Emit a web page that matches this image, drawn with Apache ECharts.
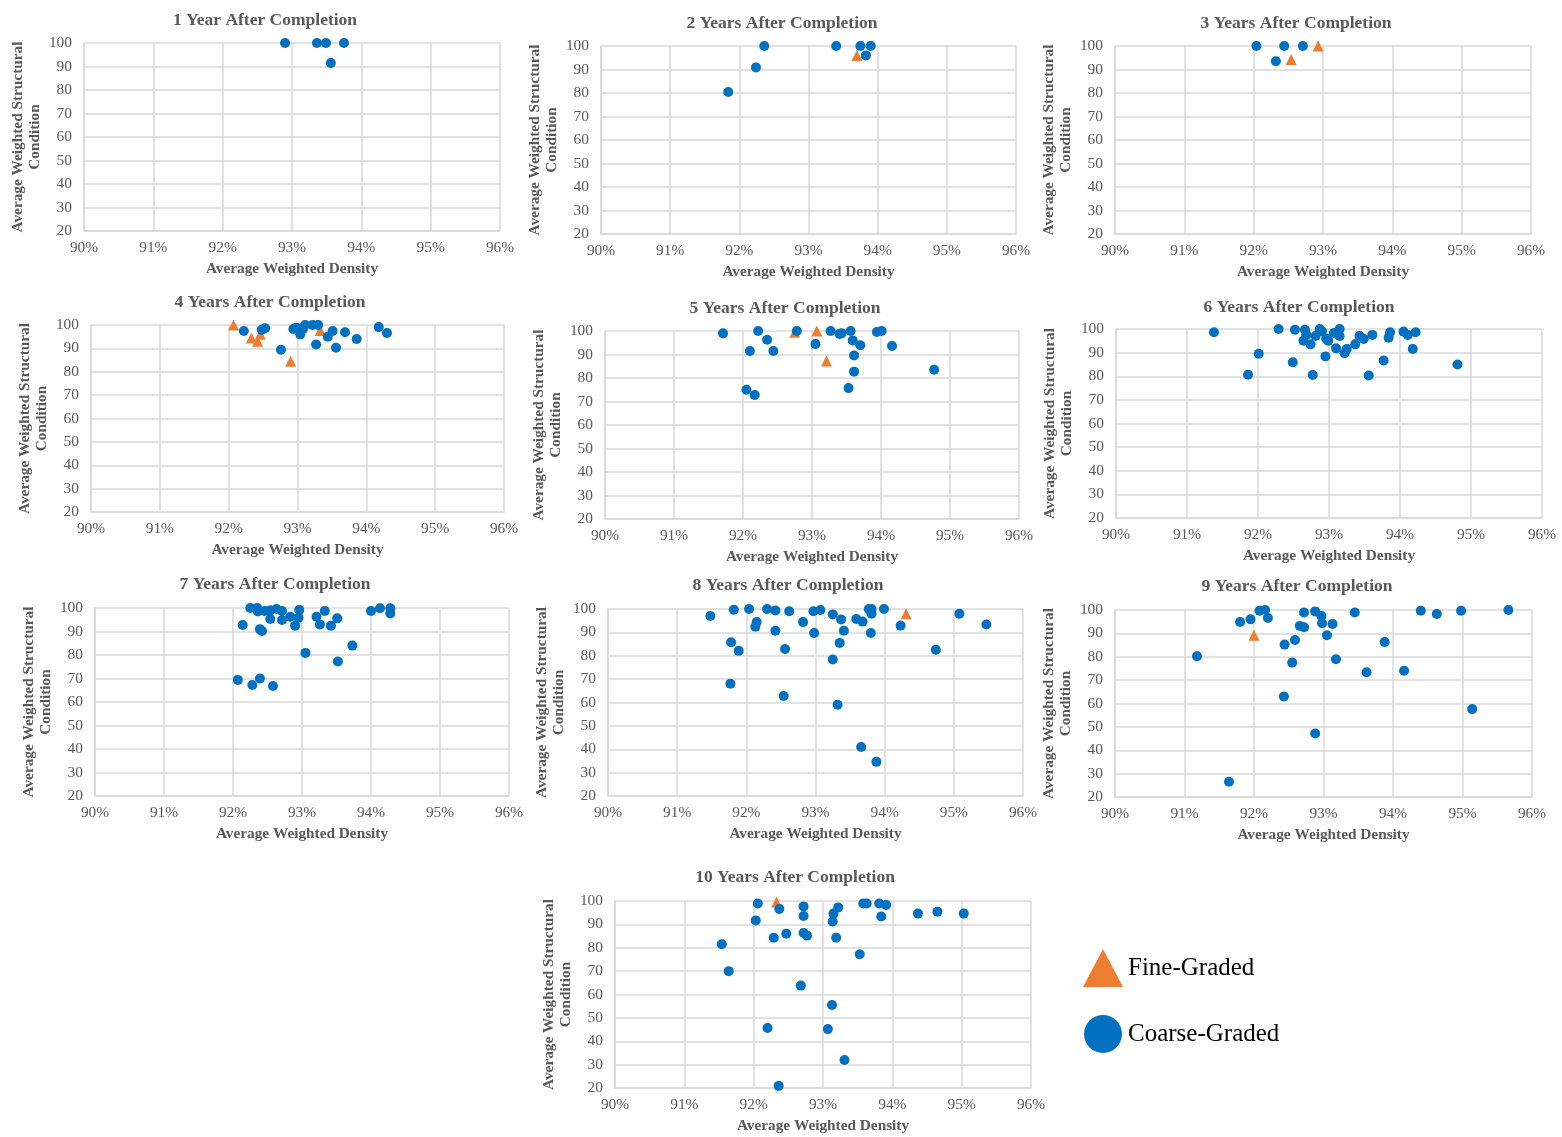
<!DOCTYPE html>
<html><head><meta charset="utf-8">
<script src="https://cdn.jsdelivr.net/npm/echarts@6/dist/echarts.min.js"></script>
<style>html,body{margin:0;padding:0;background:#fff}#c{width:1562px;height:1137px}</style>
</head><body><div id="c"></div>
<script>
// ---------- data ----------
const titles = ['1 Year After Completion','2 Years After Completion','3 Years After Completion',
  '4 Years After Completion','5 Years After Completion','6 Years After Completion',
  '7 Years After Completion','8 Years After Completion','9 Years After Completion',
  '10 Years After Completion'];
const xAxisName = 'Average Weighted Density';
const yAxisName = 'Average Weighted Structural\nCondition';
const seriesNames = ['Fine-Graded', 'Coarse-Graded'];
const xMin = 90, xMax = 96, xStep = 1;
const yMin = 20, yMax = 100, yStep = 10;

const fine1 = [];
const coarse1 = [[92.90,100],[93.36,100],[93.49,100],[93.75,100],[93.56,91.5]];

const fine2 = [[93.70,96]];
const coarse2 = [[91.84,80.4],[92.24,90.9],[92.36,100],[93.40,100],[93.75,100],[93.90,100],[93.83,96]];

const fine3 = [[92.54,94.3],[92.93,100]];
const coarse3 = [[92.04,100],[92.44,100],[92.71,100],[92.32,93.5]];

const fine4 = [[92.07,100],[92.33,94.4],[92.42,93],[92.46,96],[92.90,84.5],[93.33,97.6]];
const coarse4 = [[92.22,97.4],[92.48,98],[92.53,98.6],[92.76,89.4],[92.94,98.3],[92.98,98.8],
  [93.04,96],[93.08,98.3],[93.11,100],[93.22,100],[93.30,100],[93.27,91.7],[93.44,95],
  [93.51,97.4],[93.56,90.3],[93.69,96.9],[93.86,94],[94.18,99.1],[94.30,96.6]];

const fine5 = [[92.75,99.5],[93.07,100],[93.21,87.2]];
const coarse5 = [[91.71,99],[92.22,100],[92.35,96.3],[92.10,91.5],[92.44,91.5],[92.05,75],
  [92.17,72.8],[92.78,100],[93.05,94.5],[93.27,100],[93.40,98.7],[93.43,99],[93.56,100],
  [93.59,96],[93.70,93.9],[93.61,89.6],[93.61,82.7],[93.53,75.7],[93.94,99.6],[94.01,100],
  [94.16,93.6],[94.77,83.5]];

const fine6 = [[92.68,99.5]];
const coarse6 = [[91.38,98.6],[91.86,80.6],[92.01,89.5],[92.29,100],[92.49,85.9],[92.52,99.7],
  [92.66,99.7],[92.64,95],[92.68,97.5],[92.74,93.5],[92.77,80.5],[92.81,97],[92.87,100],
  [92.90,99],[92.95,88.4],[92.96,96],[92.99,95],[93.07,98.3],[93.10,91.8],[93.15,100],
  [93.15,97],[93.22,89.7],[93.25,91.5],[93.37,93.5],[93.43,97],[93.49,95.8],[93.56,80.3],
  [93.61,97.5],[93.77,86.7],[93.84,96.3],[93.86,98.6],[94.05,98.9],[94.11,97.5],[94.22,98.6],
  [94.18,91.5],[94.81,85]];

const fine7 = [];
const coarse7 = [[92.25,100],[92.35,100],[92.36,98.5],[92.14,92.8],[92.39,91],[92.42,90.2],
  [92.46,98.7],[92.54,99],[92.54,95.3],[92.63,99.6],[92.71,98.7],[92.71,94.9],[92.83,96.3],
  [92.90,92.5],[92.96,99.2],[92.95,95.8],[93.21,96.3],[93.26,93],[93.33,98.7],[93.42,92.5],
  [93.51,95.6],[93.73,84],[93.05,80.9],[93.52,77.2],[94.00,98.7],[94.13,99.9],[94.28,99.9],
  [94.28,97.7],[92.07,69.4],[92.28,67.2],[92.39,70],[92.58,66.8]];

const fine8 = [[94.31,98]];
const coarse8 = [[91.48,97],[91.82,99.7],[92.04,100],[92.30,100],[92.42,99.4],[92.62,99],
  [92.15,94.4],[92.13,92.4],[92.42,90.7],[92.82,94.4],[92.97,99],[93.07,99.6],[92.98,89.7],
  [93.25,97.7],[93.37,95.5],[93.41,90.7],[93.35,85.5],[93.25,78.4],[93.32,59],[93.59,95.7],
  [93.68,94.6],[93.77,100],[93.81,100],[93.81,98],[93.80,89.7],[93.99,100],[94.23,92.9],
  [95.08,98],[95.47,93.4],[94.74,82.6],[91.78,85.8],[91.89,82.1],[91.77,68],[92.56,82.9],
  [92.54,62.8],[93.66,41],[93.88,34.6]];

const fine9 = [[92.00,89.2]];
const coarse9 = [[91.80,94.9],[91.95,96],[92.08,99.7],[92.16,100],[92.20,96.6],[91.18,80.2],
  [91.64,26.5],[92.44,85.2],[92.59,87.2],[92.55,77.5],[92.43,63],[92.66,93.2],[92.72,92.6],
  [92.72,98.9],[92.88,99.4],[92.97,97.4],[92.98,94.3],[93.13,94],[93.05,89.2],[93.18,78.9],
  [92.88,47.2],[93.45,98.9],[93.62,73.4],[93.88,86.3],[94.16,74],[94.40,99.7],[94.63,98.3],
  [94.98,99.7],[95.14,57.6],[95.66,100]];

const fine10 = [[92.33,99.6]];
const coarse10 = [[92.06,98.9],[92.03,91.7],[92.37,96.6],[91.54,81.5],[91.64,70],[92.29,84.3],
  [92.47,86],[92.20,45.7],[92.36,20.9],[92.72,97.7],[92.72,93.6],[92.72,86.3],[92.77,85.2],
  [92.68,63.8],[93.15,94.6],[93.14,91.2],[93.22,97.2],[93.19,84.3],[93.13,55.5],[93.07,45.2],
  [93.31,32],[93.53,77.2],[93.58,98.9],[93.63,98.9],[93.81,98.9],[93.91,98.3],[93.84,93.4],
  [94.37,94.6],[94.65,95.4],[95.03,94.6]];

const fineSets = [fine1,fine2,fine3,fine4,fine5,fine6,fine7,fine8,fine9,fine10];
const coarseSets = [coarse1,coarse2,coarse3,coarse4,coarse5,coarse6,coarse7,coarse8,coarse9,coarse10];

// ---------- layout ----------
const grids = [
  {left:84, top:43, width:416, height:188},
  {left:601, top:46, width:415, height:188},
  {left:1115, top:46, width:416, height:188},
  {left:91, top:325, width:413, height:187},
  {left:605, top:331, width:414, height:188},
  {left:1116, top:329, width:426, height:189},
  {left:95, top:608, width:414, height:188},
  {left:608, top:609, width:415, height:187},
  {left:1115, top:610, width:417, height:187},
  {left:615, top:901, width:416, height:187}
];
const titlePos = [[260,17],[777,20],[1291,20],[265,299],[780,305],[1294,304],[270,581],[783,582],[1292,583],[790,874]];

const FONT = 'Liberation Serif, Times New Roman, serif';
const GREY = '#595959';
const LINE = '#D9D9D9';
const BLUE = '#0070C0';
const ORANGE = '#ED7D31';

const option = {
  backgroundColor: '#fff',
  animation: false,
  title: titles.map((t, i) => ({
    text: t, left: titlePos[i][0], top: titlePos[i][1] - 11, textAlign: 'center',
    textStyle: {fontFamily: FONT, fontSize: 17.5, fontWeight: 'bold', color: GREY}
  })),
  legend: {
    data: [
      {name: 'Fine-Graded', icon: 'triangle'},
      {name: 'Coarse-Graded', icon: 'circle'}
    ],
    orient: 'vertical', left: 1078, top: 944,
    itemWidth: 40, itemHeight: 38, itemGap: 28,
    textStyle: {fontFamily: FONT, fontSize: 25, color: '#000', padding: [0,0,0,0]},
    selectedMode: false
  },
  grid: grids.map(g => Object.assign({containLabel: false}, g)),
  xAxis: grids.map((g, i) => ({
    type: 'value', gridIndex: i, min: xMin, max: xMax, interval: xStep,
    name: xAxisName, nameLocation: 'middle', nameGap: 31,
    nameTextStyle: {fontFamily: FONT, fontSize: 15.3, fontWeight: 'bold', color: GREY},
    axisLine: {show: true, lineStyle: {color: LINE, width: 1.5}},
    axisTick: {show: false},
    splitLine: {show: true, lineStyle: {color: LINE, width: 1.5}},
    axisLabel: {fontFamily: FONT, fontSize: 15.4, color: GREY, margin: 9, formatter: '{value}%'}
  })),
  yAxis: grids.map((g, i) => ({
    type: 'value', gridIndex: i, min: yMin, max: yMax, interval: yStep,
    name: yAxisName, nameLocation: 'middle', nameGap: 40, nameRotate: 90,
    nameTextStyle: {fontFamily: FONT, fontSize: 15.3, fontWeight: 'bold', color: GREY, lineHeight: 17, align: 'center'},
    axisLine: {show: true, lineStyle: {color: LINE, width: 1.5}},
    axisTick: {show: false},
    splitLine: {show: true, lineStyle: {color: LINE, width: 1.5}},
    axisLabel: {fontFamily: FONT, fontSize: 15.4, color: GREY, margin: 12}
  })),
  series: []
};

grids.forEach((g, i) => {
  option.series.push({
    name: seriesNames[0], type: 'scatter', xAxisIndex: i, yAxisIndex: i,
    data: fineSets[i], symbol: 'triangle', symbolSize: 11,
    itemStyle: {color: ORANGE, opacity: 1}, z: 2
  });
  option.series.push({
    name: seriesNames[1], type: 'scatter', xAxisIndex: i, yAxisIndex: i,
    data: coarseSets[i], symbol: 'circle', symbolSize: 10,
    itemStyle: {color: BLUE, opacity: 1}, z: 3
  });
});

const chart = echarts.init(document.getElementById('c'), null, {renderer: 'canvas'});
chart.setOption(option);
</script>
</body></html>
